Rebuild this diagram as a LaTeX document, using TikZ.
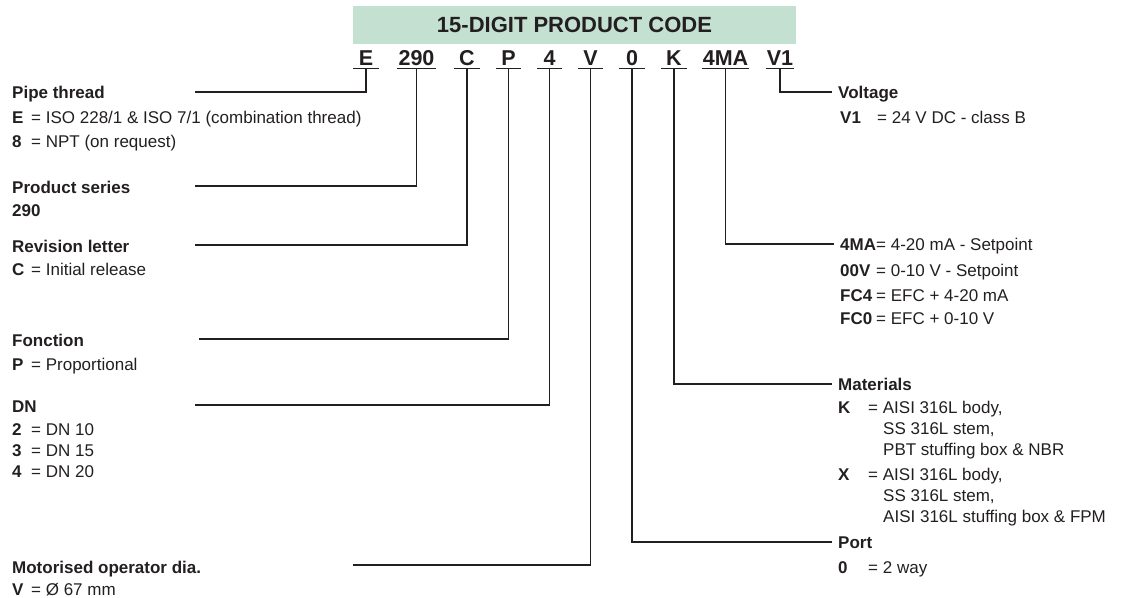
\documentclass[tikz,border=0pt]{standalone}
\usepackage{fontspec}
\setmainfont{Liberation Sans}
\usetikzlibrary{positioning}
\definecolor{codegreen}{RGB}{196,224,208}
\definecolor{ink}{RGB}{35,31,32}
\newcommand{\codeopt}[3]{\makebox[#1][l]{\bfseries #2}=\ #3}
\begin{document}
\begin{tikzpicture}[
  x=1pt, y=-1pt,
  every node/.style={inner sep=0pt, text=ink},
  lbl/.style={anchor=base west, font=\fontsize{17}{20}\selectfont},
  head/.style={lbl, font=\fontsize{17}{20}\selectfont\bfseries},
  tag/.style={anchor=base west, inner xsep=6pt, text height=13pt, text depth=0pt, font=\fontsize{17}{20}\selectfont},
  tagHead/.style={tag, font=\fontsize{17}{20}\selectfont\bfseries},
  digit/.style={anchor=base, font=\fontsize{21.5}{22}\selectfont\bfseries, minimum width=25pt, inner xsep=1pt, inner ysep=3pt, text depth=0pt},
  lead/.style={draw=ink, line width=1.2pt}
]
\useasboundingbox (0,0) rectangle (1126,597);

\node[fill=codegreen, minimum width=443pt, minimum height=38pt, font=\fontsize{22}{24}\selectfont\bfseries] (title) at (574.5,25) {15-DIGIT PRODUCT CODE};

\node[digit] (cE)   at (366,65)   {E};
\node[digit] (c290) at (416.5,65) {290};
\node[digit] (cC)   at (467,65)   {C};
\node[digit] (cP)   at (508.5,65) {P};
\node[digit] (c4)   at (549.5,65) {4};
\node[digit] (cV)   at (590.5,65) {V};
\node[digit] (c0)   at (632,65)   {0};
\node[digit] (cK)   at (674,65)   {K};
\node[digit] (c4MA) at (725.5,65) {4MA};
\node[digit] (cV1)  at (780,65)   {V1};
\foreach \c in {cE,c290,cC,cP,c4,cV,c0,cK,c4MA,cV1}
  \draw[lead] (\c.south west) -- (\c.south east);

% left column
\node[head] (hPipe) at (12,98.5) {Pipe thread};
\node[lbl] (pipeE) at (12,123) {\codeopt{19pt}{E}{ISO 228/1 \& ISO 7/1 (combination thread)}};
\node[lbl] (pipe8) at (12,147) {\codeopt{19pt}{8}{NPT (on request)}};

\node[head] (hSeries) at (12,193) {Product series};
\node[lbl, font=\fontsize{17}{20}\selectfont\bfseries] (series) at (12,216) {290};

\node[head] (hRev) at (12,252) {Revision letter};
\node[lbl] (revC) at (12,275) {\codeopt{19pt}{C}{Initial release}};

\node[head] (hFunc) at (12,346) {Fonction};
\node[lbl] (funcP) at (12,370) {\codeopt{19pt}{P}{Proportional}};

\node[head] (hDN) at (12,412) {DN};
\node[lbl] (dn2) at (12,435) {\codeopt{19pt}{2}{DN 10}};
\node[lbl] (dn3) at (12,456) {\codeopt{19pt}{3}{DN 15}};
\node[lbl] (dn4) at (12,477) {\codeopt{19pt}{4}{DN 20}};

\node[head] (hMotor) at (12,573) {Motorised operator dia.};
\node[lbl] (motorV) at (12,595) {\codeopt{19pt}{V}{Ø 67 mm}};

\coordinate (pipeEnd)   at (195,92);
\coordinate (seriesEnd) at (195,186);
\coordinate (revEnd)    at (195,245);
\coordinate (funcEnd)   at (199,339);
\coordinate (dnEnd)     at (195,405);
\coordinate (motorEnd)  at (353,565);

\draw[lead] (cE.south)   |- (pipeEnd);
\draw[lead] (c290.south) |- (seriesEnd);
\draw[lead] (cC.south)   |- (revEnd);
\draw[lead] (cP.south)   |- (funcEnd);
\draw[lead] (c4.south)   |- (dnEnd);
\draw[lead] (cV.south)   |- (motorEnd);

% right column
\node[tagHead] (hVolt) at (832,98.5) {Voltage};
\node[lbl] (voltV1) at (840,123) {\codeopt{37pt}{V1}{24 V DC - class B}};

\node[tag] (sig4MA) at (834,250.5) {\codeopt{36pt}{4MA}{4-20 mA - Setpoint}};
\node[lbl] (sig00V) at (840,276) {\codeopt{36pt}{00V}{0-10 V - Setpoint}};
\node[lbl] (sigFC4) at (840,301) {\codeopt{36pt}{FC4}{EFC + 4-20 mA}};
\node[lbl] (sigFC0) at (840,324) {\codeopt{36pt}{FC0}{EFC + 0-10 V}};

\node[tagHead] (hMat) at (832,390.5) {Materials};
\node[lbl] (matK)  at (838,413) {\codeopt{30pt}{K}{AISI 316L body,}};
\node[lbl] (matK2) at (883,434) {SS 316L stem,};
\node[lbl] (matK3) at (883,455) {PBT stuffing box \& NBR};
\node[lbl] (matX)  at (838,480) {\codeopt{30pt}{X}{AISI 316L body,}};
\node[lbl] (matX2) at (883,501) {SS 316L stem,};
\node[lbl] (matX3) at (883,522) {AISI 316L stuffing box \& FPM};

\node[tagHead] (hPort) at (832,548.5) {Port};
\node[lbl] (port0) at (838,573) {\codeopt{30pt}{0}{2 way}};

\draw[lead] (cV1.south)  |- (hVolt.west);
\draw[lead] (c4MA.south) |- (sig4MA.west);
\draw[lead] (cK.south)   |- (hMat.west);
\draw[lead] (c0.south)   |- (hPort.west);
\end{tikzpicture}
\end{document}
